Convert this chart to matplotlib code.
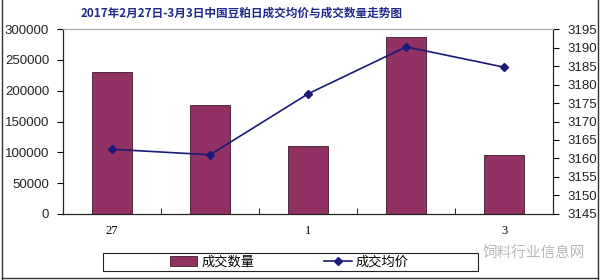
import matplotlib.pyplot as plt
import matplotlib
from matplotlib.patches import Rectangle
from matplotlib.lines import Line2D

matplotlib.rcParams['font.family'] = ['Noto Sans CJK SC', 'DejaVu Sans']
matplotlib.rcParams['axes.unicode_minus'] = False

# 数据
days = ['27', '28', '1', '2', '3']
tick_labels = ['27', '', '1', '', '3']
volume = [230000, 177000, 111000, 287500, 95500]      # 成交数量
price = [3162.5, 3161.0, 3177.5, 3190.2, 3184.7]     # 成交均价

bar_color = '#923163'
line_color = '#1a1a7a'

fig = plt.figure(figsize=(6, 2.8), dpi=100)
ax = fig.add_axes([0.105, 0.236, 0.817, 0.66])
x = list(range(len(days)))

bars = ax.bar(x, volume, width=0.41, color=bar_color, edgecolor='#3a1a2a', linewidth=0.6, label='成交数量')
ax.set_ylim(0, 300000)
ax.set_yticks(range(0, 300001, 50000))
ax.set_xlim(-0.5, len(days) - 0.5)
ax.set_xticks(x)
ax.set_xticklabels(tick_labels, fontfamily='Liberation Serif', fontsize=9)
ax.set_xticks([i + 0.5 for i in range(len(days) - 1)], minor=True)
ax.tick_params(axis='x', which='major', length=0, pad=8)
ax.tick_params(axis='x', which='minor', length=4, direction='in')
ax.tick_params(axis='y', length=4, labelsize=9.5, pad=6, labelcolor='#222222')
for lbl in ax.get_yticklabels():
    lbl.set_fontfamily('Liberation Sans')

ax2 = ax.twinx()
line, = ax2.plot(x, price, color=line_color, linewidth=1.2, marker='D', markersize=4.5, label='成交均价')
ax2.set_ylim(3145, 3195)
ax2.set_yticks(range(3145, 3196, 5))
ax2.tick_params(axis='y', length=4, labelsize=9.5, pad=6, labelcolor='#222222')
for lbl in ax2.get_yticklabels():
    lbl.set_fontfamily('Liberation Sans')

for a in (ax, ax2):
    for s in a.spines.values():
        s.set_color('#222222')
        s.set_linewidth(0.8)
ax.spines['top'].set_color('#aaaaaa')
ax2.spines['top'].set_color('#aaaaaa')

fig.text(0.402, 0.953, '2017年2月27日-3月3日中国豆粕日成交均价与成交数量走势图',
         ha='center', va='center', fontsize=8.4, fontweight='bold', color='#1f2a8a')

# 图例外框
fig.patches.append(Rectangle((103 / 600, 1 - 271 / 280), 375 / 600, 18 / 280,
                             transform=fig.transFigure, fill=False,
                             edgecolor='#222222', linewidth=0.8))
leg = fig.legend([bars, line], ['成交数量', '成交均价'], loc='center',
                 bbox_to_anchor=(0.482, 1 - 262 / 280), ncol=2, frameon=False,
                 fontsize=9.5, borderpad=0.2, handlelength=2.1, handleheight=0.7,
                 handletextpad=0.3, columnspacing=5.3)

# 水印
fig.text(0.805, 1 - 253 / 280, '饲料行业信息网', ha='left', va='center',
         fontsize=10.5, color='#b8b8b8')

# 外框
for xs, ys in [([0.004, 0.004], [0.0, 1.0]), ([0.004, 0.996], [0.007, 0.007]),
               ([0.996, 0.996], [0.0, 1.0])]:
    fig.add_artist(Line2D(xs, ys, transform=fig.transFigure, color='#333333', linewidth=1.0))

fig.savefig('out.png', dpi=100)
